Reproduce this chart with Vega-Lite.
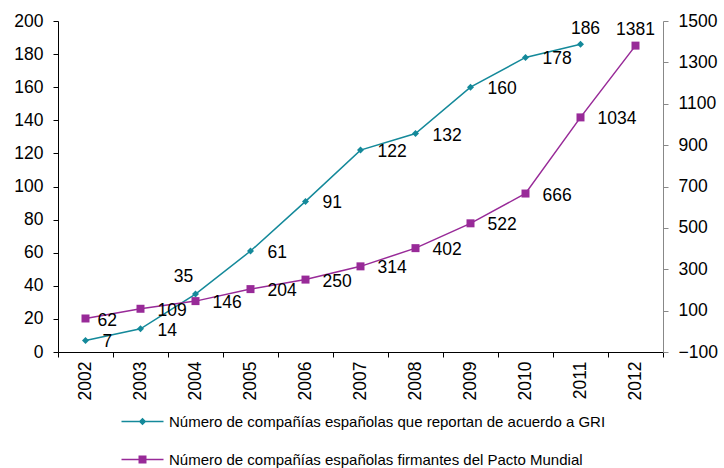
{
  "$schema": "https://vega.github.io/schema/vega-lite/v6.json",
  "width": 605,
  "height": 331,
  "autosize": {"type": "none"},
  "padding": {"left": 58, "top": 21, "right": 61, "bottom": 116},
  "background": "white",
  "config": {
    "view": {"stroke": null},
    "font": "Liberation Sans",
    "axis": {"labelFont": "Liberation Sans", "labelFontSize": 17.5, "labelColor": "black", "grid": false, "title": null, "tickSize": 5, "tickWidth": 1, "domainWidth": 1},
    "text": {"font": "Liberation Sans", "fontSize": 17.5, "color": "black"},
    "legend": {
      "orient": "none",
      "direction": "vertical",
      "title": null,
      "padding": 0,
      "symbolSize": 441,
      "labelOffset": 16,
      "labelFont": "Liberation Sans",
      "labelFontSize": 15,
      "labelColor": "black",
      "labelLimit": 600,
      "symbolStrokeWidth": 0,
      "symbolOpacity": 1
    }
  },
  "data": {
    "values": [
      {"year": "2002", "series": "GRI", "value": 7},
      {"year": "2003", "series": "GRI", "value": 14},
      {"year": "2004", "series": "GRI", "value": 35},
      {"year": "2005", "series": "GRI", "value": 61},
      {"year": "2006", "series": "GRI", "value": 91},
      {"year": "2007", "series": "GRI", "value": 122},
      {"year": "2008", "series": "GRI", "value": 132},
      {"year": "2009", "series": "GRI", "value": 160},
      {"year": "2010", "series": "GRI", "value": 178},
      {"year": "2011", "series": "GRI", "value": 186},
      {"year": "2002", "series": "Pacto", "value": 62},
      {"year": "2003", "series": "Pacto", "value": 109},
      {"year": "2004", "series": "Pacto", "value": 146},
      {"year": "2005", "series": "Pacto", "value": 204},
      {"year": "2006", "series": "Pacto", "value": 250},
      {"year": "2007", "series": "Pacto", "value": 314},
      {"year": "2008", "series": "Pacto", "value": 402},
      {"year": "2009", "series": "Pacto", "value": 522},
      {"year": "2010", "series": "Pacto", "value": 666},
      {"year": "2011", "series": "Pacto", "value": 1034},
      {"year": "2012", "series": "Pacto", "value": 1381}
    ]
  },
  "encoding": {
    "x": {
      "field": "year",
      "type": "ordinal",
      "bandPosition": 0.5,
      "scale": {"type": "band", "paddingInner": 0, "paddingOuter": 0, "domain": ["2002","2003","2004","2005","2006","2007","2008","2009","2010","2011","2012"]},
      "axis": {"labelAngle": -90, "tickBand": "extent", "domainColor": "black", "tickColor": "black", "labelPadding": 4}
    }
  },
  "layer": [
    {
      "transform": [{"filter": "datum.series === 'GRI'"}],
      "encoding": {
        "y": {
          "field": "value",
          "type": "quantitative",
          "scale": {"domain": [0, 200], "nice": false, "zero": false},
          "axis": {"orient": "left", "values": [0,20,40,60,80,100,120,140,160,180,200], "format": "d", "domainColor": "black", "tickColor": "black", "labelPadding": 10}
        }
      },
      "layer": [
        {"mark": {"type": "line", "color": "#14899a", "strokeWidth": 1.5}, "encoding": {}},
        {
          "mark": {"type": "point", "shape": "diamond", "filled": true, "size": 49, "opacity": 1},
          "encoding": {
            "color": {
              "field": "series",
              "type": "nominal",
              "scale": {"domain": ["GRI"], "range": ["#14899a"]},
              "legend": {
                "legendX": 74,
                "legendY": 390,
                "symbolType": "M-2,-0.07H2V0.07H-2Z M0,-0.36L0.36,0L0,0.36L-0.36,0Z",
                "symbolFillColor": "#14899a",
                "labelExpr": "'Número de compañías españolas que reportan de acuerdo a GRI'"
              }
            }
          }
        },
        {
          "transform": [{"filter": "datum.year !== '2004' && datum.year !== '2011'"}],
          "mark": {"type": "text", "align": "left", "baseline": "middle", "dx": 17, "dy": 2},
          "encoding": {"text": {"field": "value", "type": "quantitative", "format": "d"}}
        },
        {
          "transform": [{"filter": "datum.year === '2004'"}],
          "mark": {"type": "text", "align": "center", "baseline": "middle", "dx": -12, "dy": -17},
          "encoding": {"text": {"field": "value", "type": "quantitative", "format": "d"}}
        },
        {
          "transform": [{"filter": "datum.year === '2011'"}],
          "mark": {"type": "text", "align": "center", "baseline": "middle", "dx": 5, "dy": -15},
          "encoding": {"text": {"field": "value", "type": "quantitative", "format": "d"}}
        }
      ]
    },
    {
      "transform": [{"filter": "datum.series === 'Pacto'"}],
      "encoding": {
        "y": {
          "field": "value",
          "type": "quantitative",
          "scale": {"domain": [-100, 1500], "nice": false, "zero": false},
          "axis": {"orient": "right", "values": [-100,100,300,500,700,900,1100,1300,1500], "format": "d", "domainColor": "#888888", "tickColor": "#888888", "labelPadding": 10}
        }
      },
      "layer": [
        {"mark": {"type": "line", "color": "#982a98", "strokeWidth": 1.5}, "encoding": {}},
        {
          "mark": {"type": "point", "shape": "square", "filled": true, "size": 64, "opacity": 1},
          "encoding": {
            "color": {
              "field": "series",
              "type": "nominal",
              "scale": {"domain": ["Pacto"], "range": ["#982a98"]},
              "legend": {
                "legendX": 74,
                "legendY": 428,
                "symbolType": "M-2,-0.07H2V0.07H-2Z M-0.38,-0.38H0.38V0.38H-0.38Z",
                "symbolFillColor": "#982a98",
                "labelExpr": "'Número de compañías españolas firmantes del Pacto Mundial'"
              }
            }
          }
        },
        {
          "transform": [{"filter": "datum.year !== '2002' && datum.year !== '2012'"}],
          "mark": {"type": "text", "align": "left", "baseline": "middle", "dx": 17, "dy": 2},
          "encoding": {"text": {"field": "value", "type": "quantitative", "format": "d"}}
        },
        {
          "transform": [{"filter": "datum.year === '2002'"}],
          "mark": {"type": "text", "align": "left", "baseline": "middle", "dx": 12, "dy": 3},
          "encoding": {"text": {"field": "value", "type": "quantitative", "format": "d"}}
        },
        {
          "transform": [{"filter": "datum.year === '2012'"}],
          "mark": {"type": "text", "align": "center", "baseline": "middle", "dx": 0, "dy": -16},
          "encoding": {"text": {"field": "value", "type": "quantitative", "format": "d"}}
        }
      ]
    }
  ],
  "resolve": {"scale": {"y": "independent", "color": "independent"}, "legend": {"color": "independent"}}
}
